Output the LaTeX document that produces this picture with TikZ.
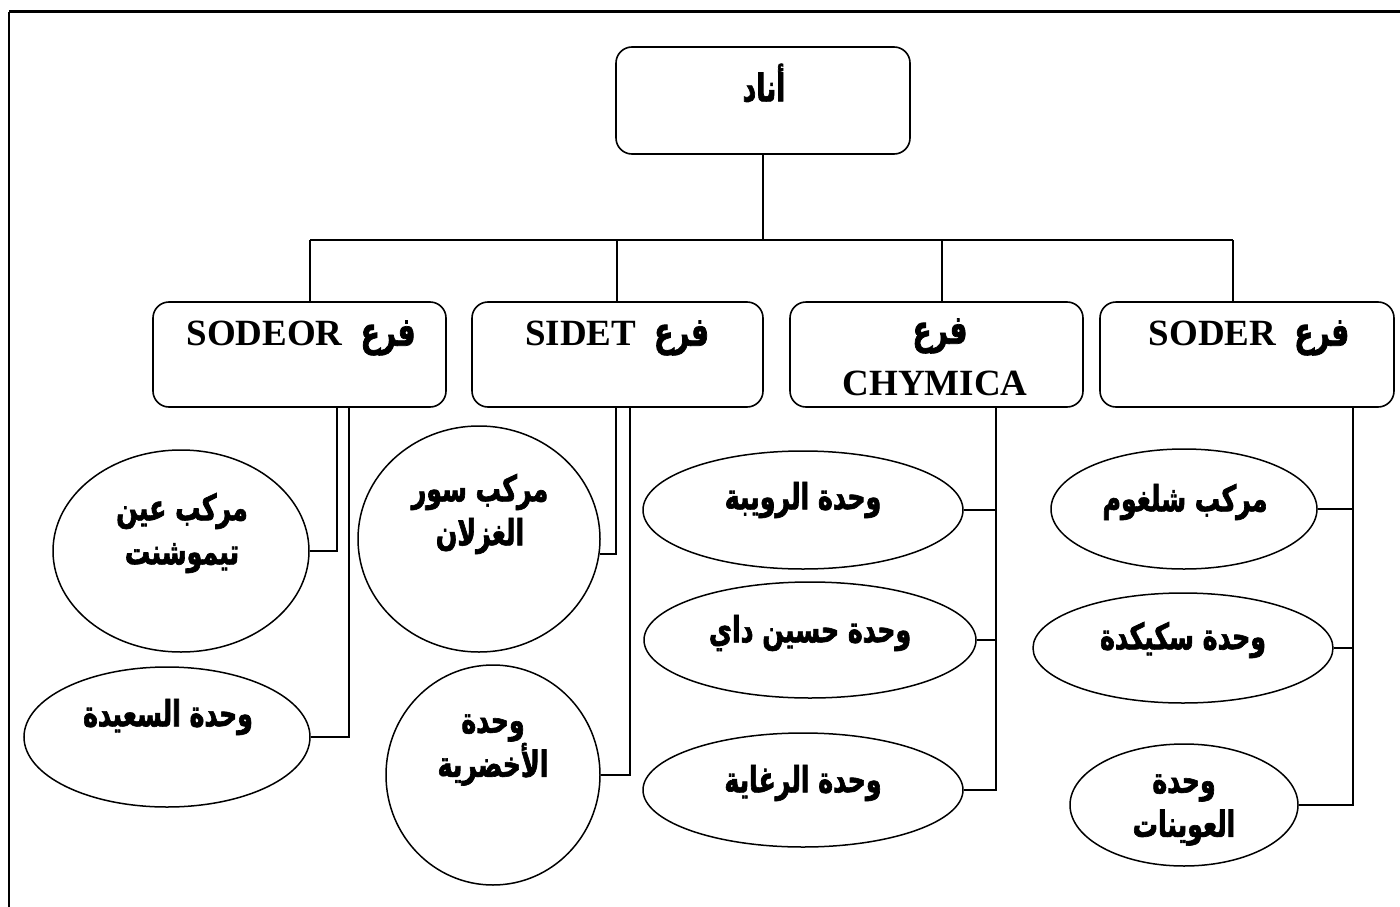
\documentclass[tikz,border=0pt]{standalone}
\usepackage{fontspec}
\setmainfont{Liberation Serif}
\newfontfamily\arabicfont[Script=Arabic, FakeStretch=0.7, FakeBold=1.8]{DejaVu Sans}
\TeXXeTstate=1
\usetikzlibrary{shapes.geometric}
\newcommand{\artext}[1]{{\arabicfont\bfseries\beginR #1\endR}}
\tikzset{
  rbox/.style={draw, line width=1.6pt, rounded corners=16pt, inner sep=0pt},
  oval/.style={ellipse, draw, line width=1.5pt, inner sep=0pt},
  conn/.style={line width=1.8pt},
  atxt/.style={font=\fontsize{36}{44}\selectfont, align=center, inner sep=0pt},
  btxt/.style={font=\fontsize{37}{44}\selectfont\bfseries, align=center, inner sep=0pt},
}
\begin{document}
\begin{tikzpicture}[x=1pt, y=-1pt]
\useasboundingbox (0,0) rectangle (1400,907);
% frame
\draw[line width=3pt] (9,12) -- (1400,12);
\draw[line width=2pt] (9,12) -- (9,907);

% top box
\node[rbox, minimum width=294pt, minimum height=107pt] (anad) at (763,100.5) {};
\node[atxt] (tanad) at (764,83) {{\fontsize{38}{44}\selectfont\artext{أناد}}};

% branch boxes
\node[rbox, minimum width=293pt, minimum height=105pt] (sodeor) at (299.5,354.5) {};
\node[rbox, minimum width=291pt, minimum height=105pt] (sidet) at (617.5,354.5) {};
\node[rbox, minimum width=293pt, minimum height=105pt] (chymica) at (936.5,354.5) {};
\node[rbox, minimum width=294pt, minimum height=105pt] (soder) at (1247,354.5) {};

\node[btxt] (tsodeor) at (301,338) {SODEOR\hspace{18pt}{\fontsize{40}{44}\selectfont\artext{فرع}}};
\node[btxt] (tsidet) at (617,338) {SIDET\hspace{18pt}{\fontsize{40}{44}\selectfont\artext{فرع}}};
\node[btxt] (tchym1) at (940,336) {{\fontsize{40}{44}\selectfont\artext{فرع}}};
\node[btxt] (tchym2) at (935,383) {CHYMICA};
\node[btxt] (tsoder) at (1249,338) {SODER\hspace{18pt}{\fontsize{40}{44}\selectfont\artext{فرع}}};

% ellipses
\node[oval, minimum width=256pt, minimum height=202pt] (c1) at (181,551) {};
\node[oval, minimum width=286pt, minimum height=140pt] (e2) at (167,737) {};
\node[oval, minimum width=242pt, minimum height=226pt] (c3) at (479,539) {};
\node[oval, minimum width=214pt, minimum height=220pt] (c4) at (493,775) {};
\node[oval, minimum width=320pt, minimum height=118pt] (e5) at (803,510) {};
\node[oval, minimum width=332pt, minimum height=116pt] (e6) at (810,640) {};
\node[oval, minimum width=320pt, minimum height=114pt] (e7) at (803,790) {};
\node[oval, minimum width=266pt, minimum height=120pt] (e8) at (1184,509) {};
\node[oval, minimum width=300pt, minimum height=110pt] (e9) at (1183,648) {};
\node[oval, minimum width=228pt, minimum height=122pt] (e10) at (1184,805) {};

% texts
\node[atxt] (tc1) at (182,533) {\artext{مركب عين}\\\artext{تيموشنت}};
\node[atxt] (te2) at (168,717) {\artext{وحدة السعيدة}};
\node[atxt] (tc3) at (480,514) {\artext{مركب سور}\\\artext{الغزلان}};
\node[atxt] (tc4) at (493,750) {\artext{وحدة}\\\artext{الأخضرية}};
\node[atxt] (te5) at (803,500) {\artext{وحدة الرويبة}};
\node[atxt] (te6) at (810,633) {\artext{وحدة حسين داي}};
\node[atxt] (te7) at (803,783) {\artext{وحدة الرغاية}};
\node[atxt] (te8) at (1185,502) {\artext{مركب شلغوم}};
\node[atxt] (te9) at (1183,640) {\artext{وحدة سكيكدة}};
\node[atxt] (te10) at (1184,810) {\artext{وحدة}\\\artext{العوينات}};

% coordinates
\coordinate (hL) at (310,240);
\coordinate (hR) at (1233,240);
\coordinate (d2) at (617,240);
\coordinate (d3) at (942,240);
\coordinate (s1) at (337,407);
\coordinate (s2) at (349,407);
\coordinate (s3) at (616,407);
\coordinate (s4) at (630,407);
\coordinate (t3) at (996,407);
\coordinate (t4) at (1353,407);

% connectors
\draw[conn] (anad.south) -- (anad.south |- hL);
\draw[conn] (hL) -- (hR);
\draw[conn] (hL) -- (hL |- sodeor.north);
\draw[conn] (d2) -- (d2 |- sidet.north);
\draw[conn] (d3) -- (d3 |- chymica.north);
\draw[conn] (hR) -- (hR |- soder.north);

\draw[conn] (c1.east) -| (s1);
\draw[conn] (e2.east) -| (s2);
\draw[conn] (c3.-7) -| (s3);
\draw[conn] (c4.east) -| (s4);

\draw[conn] (t3) |- (e7.east);
\draw[conn] (e5.east) -- (e5.east -| t3);
\draw[conn] (e6.east) -- (e6.east -| t3);

\draw[conn] (t4) |- (e10.east);
\draw[conn] (e8.east) -- (e8.east -| t4);
\draw[conn] (e9.east) -- (e9.east -| t4);
\end{tikzpicture}
\end{document}
